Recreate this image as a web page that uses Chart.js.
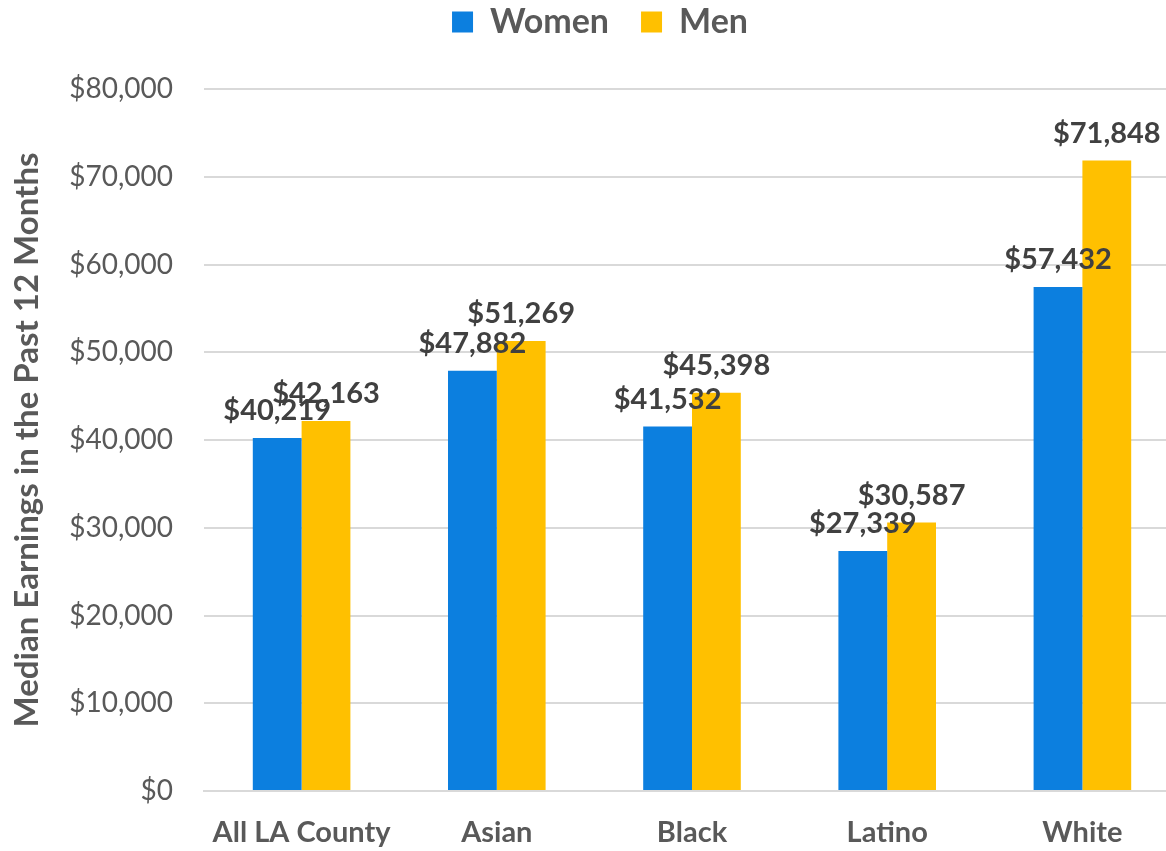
<!DOCTYPE html>
<html>
<head>
<meta charset="utf-8">
<script src="https://cdn.jsdelivr.net/npm/chart.js@4/dist/chart.umd.min.js"></script>
<style>
  html, body { margin: 0; padding: 0; background: #ffffff; overflow: hidden; }
  #wrap { position: relative; width: 1180px; height: 851px; }
</style>
</head>
<body>
<div id="wrap"><canvas id="c"></canvas></div>
<script>
const categories = ["All LA County", "Asian", "Black", "Latino", "White"];
const women = [40219, 47882, 41532, 27339, 57432];
const men = [42163, 51269, 45398, 30587, 71848];
const yTicks = [0, 10000, 20000, 30000, 40000, 50000, 60000, 70000, 80000];
const seriesNames = ["Women", "Men"];
const yTitle = "Median Earnings in the Past 12 Months";

const fmt = v => "$" + v.toLocaleString("en-US");
const FONT = "Lato";

const valueLabels = {
  id: "valueLabels",
  afterDatasetsDraw(chart) {
    const ctx = chart.ctx;
    ctx.save();
    ctx.font = "bold 29px " + FONT;
    ctx.fillStyle = "#404040";
    ctx.textAlign = "center";
    ctx.textBaseline = "alphabetic";
    chart.data.datasets.forEach((ds, i) => {
      const meta = chart.getDatasetMeta(i);
      meta.data.forEach((el, j) => {
        ctx.fillText(fmt(ds.data[j]), el.x, el.y - 18);
      });
    });
    ctx.restore();
  }
};

// nudge the legend block slightly right to match the reference centring
const legendShift = {
  id: "legendShift",
  afterLayout(chart) {
    if (chart.legend) {
      chart.legend.left += 10;
      chart.legend.right += 10;
    }
  }
};

new Chart(document.getElementById("c"), {
  type: "bar",
  data: {
    labels: categories,
    datasets: [
      { label: seriesNames[0], data: women, backgroundColor: "#0C7FDF", categoryPercentage: 0.5, barPercentage: 1.0 },
      { label: seriesNames[1], data: men, backgroundColor: "#FFC000", categoryPercentage: 0.5, barPercentage: 1.0 }
    ]
  },
  options: {
    responsive: true,
    maintainAspectRatio: false,
    animation: false,
    layout: { padding: { top: -27, right: 0, bottom: 0, left: 0 } },
    plugins: {
      legend: {
        display: true,
        position: "top",
        weight: 3000,
        labels: {
          boxWidth: 21,
          boxHeight: 21,
          padding: 32,
          color: "#595959",
          font: { family: FONT, size: 34, weight: "bold" }
        }
      },
      subtitle: {
        display: true,
        text: "",
        font: { size: 20, lineHeight: 1 },
        padding: { top: 10, bottom: 10 }
      },
      tooltip: { enabled: false }
    },
    scales: {
      x: {
        grid: { display: false, drawTicks: false },
        border: { display: true, color: "#D9D9D9", width: 2 },
        ticks: {
          color: "#595959",
          padding: 24,
          font: { family: FONT, size: 29, weight: "bold" }
        },
        afterFit(scale) { scale.height = 60; }
      },
      y: {
        min: 0,
        max: 80000,
        afterBuildTicks(scale) { scale.ticks = yTicks.map(v => ({ value: v })); },
        grid: { color: "#D9D9D9", lineWidth: 2, drawTicks: false },
        border: { display: false },
        ticks: {
          color: "#595959",
          padding: 31,
          font: { family: FONT, size: 28 },
          callback: v => fmt(v)
        },
        title: {
          display: true,
          text: yTitle,
          color: "#595959",
          font: { family: FONT, size: 33, weight: "bold" },
          padding: { top: 8, bottom: 0 }
        },
        afterFit(scale) { scale.width = 204; }
      }
    }
  },
  plugins: [valueLabels, legendShift]
});
</script>
</body>
</html>
